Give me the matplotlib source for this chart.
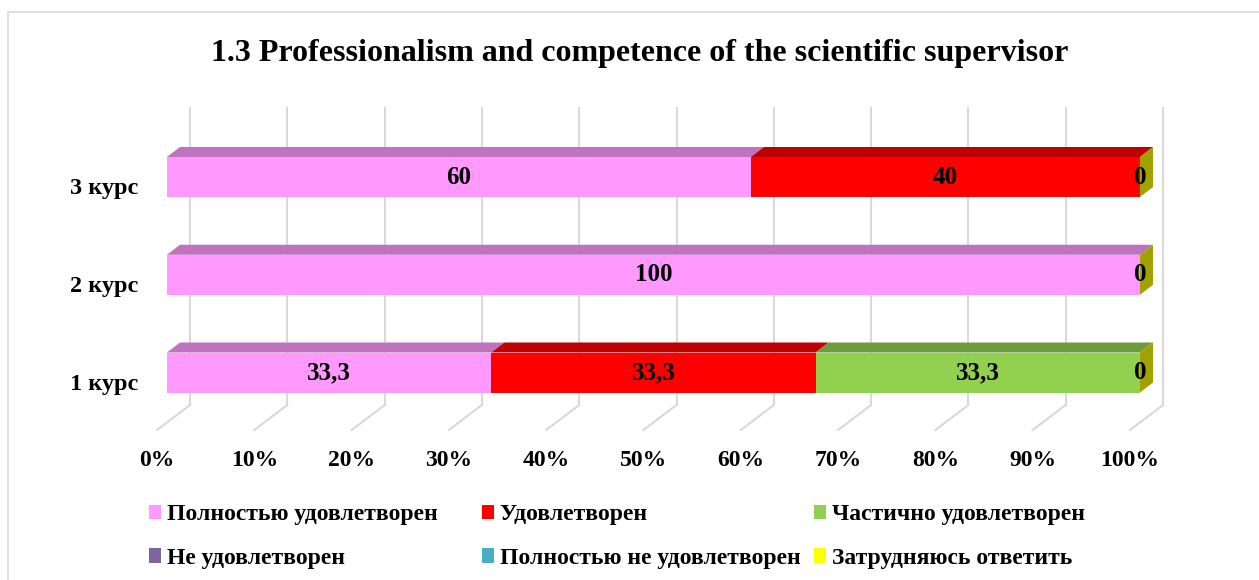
"""Horizontal 100%-stacked bar chart with a faux-3D look (Excel style)."""

import matplotlib
matplotlib.use("Agg")
import matplotlib.pyplot as plt
import numpy as np
from matplotlib.patches import Patch, Polygon, Rectangle

plt.rcParams["font.family"] = ["Liberation Serif", "DejaVu Serif"]
plt.rcParams["font.weight"] = "bold"

TITLE = "1.3 Professionalism and competence of the scientific supervisor"
categories = ["1 курс", "2 курс", "3 курс"]
series_names = [
    "Полностью удовлетворен",
    "Удовлетворен",
    "Частично удовлетворен",
    "Не удовлетворен",
    "Полностью не удовлетворен",
    "Затрудняюсь ответить",
]
# one row per category, one column per series
values = np.array([
    [33.3, 33.3, 33.3, 0, 0, 0],
    [100, 0, 0, 0, 0, 0],
    [60, 40, 0, 0, 0, 0],
], dtype=float)
x_ticks = np.arange(0, 101, 10)

_COLORS = ["#FF99FF", "#FF0000", "#92D050", "#8064A2", "#4BACC6", "#FFFF00"]
_GRID = "#D9D9D9"

# --- pixel geometry of the "3D" box --------------------------------------
FIG_W, FIG_H = 1259, 580
X0_PX, PX_PER_PCT = 167.0, 9.73     # front face 0 % and scale
Y0_PX, PX_PER_CAT = 372.5, 97.75    # centre of first category
AX_L, AX_R, AX_T, AX_B = 110, 1210, 95, 445
BAR_H = 40 / PX_PER_CAT
FACE_DX, FACE_DY = 13 / PX_PER_PCT, 10 / PX_PER_CAT      # bar depth
WALL_DX = 23 / PX_PER_PCT                                 # back wall shift
FLOOR_DX = -10 / PX_PER_PCT                               # floor front shift
WALL_TOP = (Y0_PX - 108) / PX_PER_CAT
FLOOR_BACK = (Y0_PX - 405) / PX_PER_CAT
FLOOR_FRONT = (Y0_PX - 430) / PX_PER_CAT


def _shade(colour, f):
    r, g, b = matplotlib.colors.to_rgb(colour)
    return (r * f, g * f, b * f)


def _fmt(v):
    return f"{v:g}".replace(".", ",")


fig = plt.figure(figsize=(FIG_W / 100, FIG_H / 100), dpi=100)
fig.patches.append(Rectangle((8 / FIG_W, -0.05), 1.2, 1.05 - 12 / FIG_H,
                             transform=fig.transFigure, fill=False,
                             edgecolor="#D9D9D9", linewidth=1.2))
ax = fig.add_axes([AX_L / FIG_W, 1 - AX_B / FIG_H,
                   (AX_R - AX_L) / FIG_W, (AX_B - AX_T) / FIG_H])
ax.set_xlim((AX_L - X0_PX) / PX_PER_PCT, (AX_R - X0_PX) / PX_PER_PCT)
ax.set_ylim((Y0_PX - AX_B) / PX_PER_CAT, (Y0_PX - AX_T) / PX_PER_CAT)
ax.axis("off")

# back wall + floor gridlines
for t in x_ticks:
    xb = t + WALL_DX
    ax.plot([xb, xb], [FLOOR_BACK, WALL_TOP], color=_GRID, lw=1.5, zorder=0)
    ax.plot([xb, t + FLOOR_DX], [FLOOR_BACK, FLOOR_FRONT],
            color=_GRID, lw=1.5, zorder=0)
    ax.text(t + FLOOR_DX, FLOOR_FRONT - 0.31, f"{t}%", ha="center",
            va="center", fontsize=17)

shares = values / values.sum(axis=1, keepdims=True) * 100
y = np.arange(len(categories))
for i, cat in enumerate(categories):
    left = 0.0
    top = y[i] + BAR_H / 2
    for j, colour in enumerate(_COLORS):
        w = shares[i, j]
        if w > 0:
            ax.barh(y[i], w, left=left, height=BAR_H, color=colour,
                    edgecolor="none", zorder=2)
            ax.add_patch(Polygon(
                [(left, top), (left + w, top),
                 (left + w + FACE_DX, top + FACE_DY), (left + FACE_DX, top + FACE_DY)],
                closed=True, facecolor=_shade(colour, 0.75), edgecolor="none",
                zorder=2))
        if w > 0 or j == len(_COLORS) - 1:
            ax.text(left + w / 2, y[i], _fmt(values[i, j]), ha="center",
                    va="center", fontsize=18, zorder=4)
        left += w
    # side face carries the colour of the last series
    ax.add_patch(Polygon(
        [(left, top - BAR_H), (left, top), (left + FACE_DX, top + FACE_DY),
         (left + FACE_DX, top - BAR_H + FACE_DY)],
        closed=True, facecolor=_shade(_COLORS[-1], 0.63), edgecolor="none",
        zorder=3))
    ax.text(-3.0, y[i] - 0.12, cat, ha="right", va="center", fontsize=17.5)

fig.text(640 / FIG_W, 1 - 53 / FIG_H, TITLE, ha="center", va="center",
         fontsize=23)

# legend: three single-column blocks so the columns line up like Excel's
for col, x_px in enumerate([149, 482, 814]):
    idx = [col, col + 3]
    handles = [Patch(facecolor=_COLORS[k], edgecolor="none") for k in idx]
    fig.legend(handles, [series_names[k] for k in idx], loc="upper left",
               bbox_to_anchor=(x_px / FIG_W, 1 - 504 / FIG_H), frameon=False,
               fontsize=17, handlelength=0.5, handleheight=0.55,
               handletextpad=0.25, labelspacing=0.97, borderpad=0,
               borderaxespad=0)

fig.savefig("out.png", dpi=100)
